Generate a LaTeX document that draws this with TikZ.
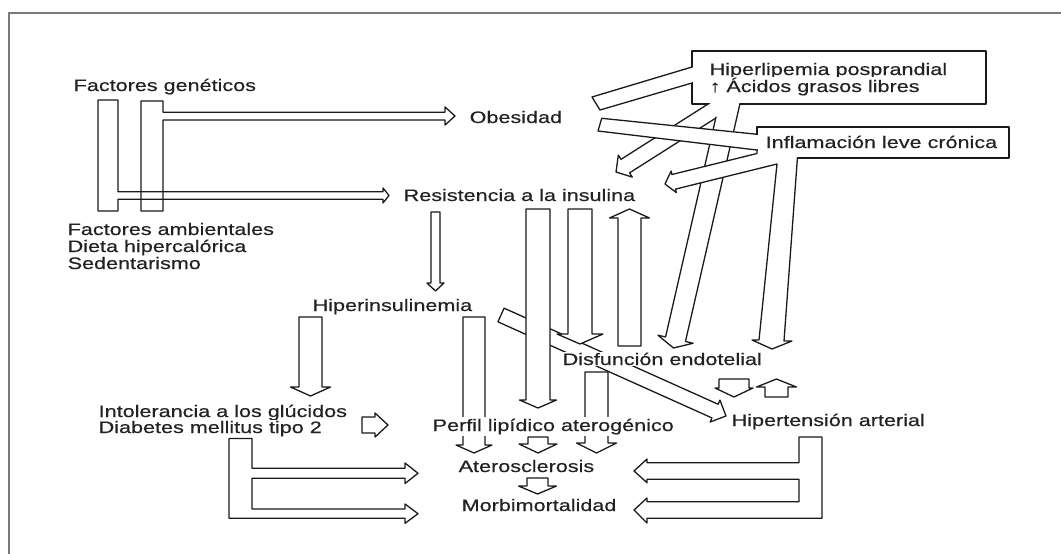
\documentclass[tikz,border=0pt]{standalone}
\usepackage{fontspec}
\setmainfont{Liberation Sans}[FakeStretch=1.3,FakeBold=0.4]
\usetikzlibrary{calc}
\definecolor{linec}{HTML}{1A1A1A}
\definecolor{txtc}{HTML}{222222}
\definecolor{framec}{HTML}{7A7A7A}
% block arrow: [opts]{start}{tip}{half shaft}{half head}{head length}
\newcommand{\blockarr}[6][]{%
  \coordinate (bH) at ($(#3)!#6!(#2)$);
  \draw[blk,#1] ($(#2)!#4!90:(#3)$) -- ($(bH)!#4!90:(#3)$) -- ($(bH)!#5!90:(#3)$) -- (#3)
    -- ($(bH)!#5!-90:(#3)$) -- ($(bH)!#4!-90:(#3)$) -- ($(#2)!#4!-90:(#3)$) -- cycle;}
\begin{document}
\begin{tikzpicture}[x=1pt,y=-1pt,
  blk/.style={draw=linec, fill=white, line width=1.3pt, line join=round},
  openblk/.style={draw=linec, line width=1.3pt, line join=round},
  edge/.style={draw=linec, line width=1.3pt, line join=round},
  lbl/.style={anchor=base west, inner sep=0.5pt, fill=white, text=txtc,
    font=\fontsize{16.6}{17}\selectfont},
]
\useasboundingbox (0,0) rectangle (1061,554);
\fill[white] (0,0) rectangle (1061,554);
% frame
\draw[framec, line width=2pt] (9,554) -- (9,13) -- (1061,13);

% ---- left: genetic / environmental factors
\draw[openblk] (98,100) -- (118,100) -- (118,191.7) -- (383,191.7) -- (383,188) -- (389,195.5)
  -- (383,203) -- (383,199.3) -- (118,199.3) -- (118,211) -- (98,211) -- cycle;
\draw[openblk] (141,101) -- (163,101) -- (163,112.3) -- (445,112.3) -- (445,107) -- (455,116)
  -- (445,125) -- (445,120) -- (163,120) -- (163,211) -- (141,211) -- cycle;

% ---- Resistencia -> Hiperinsulinemia, Hiperinsulinemia -> Intolerancia
\blockarr{435.5,212}{435.5,291}{4.5pt}{8.5pt}{8pt}
\blockarr{310.5,317}{310.5,396}{11.5pt}{20pt}{9pt}
\blockarr{362,425}{388,425}{8pt}{12pt}{13pt}

% ---- E shapes to Aterosclerosis / Morbimortalidad
\draw[blk] (229,438.5) -- (252,438.5) -- (252,468.3) -- (405,468.3) -- (405,463) -- (418,473.3)
  -- (405,483.5) -- (405,478.3) -- (252,478.3) -- (252,509) -- (405,509) -- (405,504)
  -- (418,513.7) -- (405,523.3) -- (405,518.3) -- (229,518.3) -- cycle;
\draw[blk] (822,437) -- (799,437) -- (799,462.7) -- (647,462.7) -- (647,459) -- (634,471)
  -- (647,482.7) -- (647,479.3) -- (799,479.3) -- (799,501.7) -- (647,501.7) -- (647,498)
  -- (634,510) -- (647,523) -- (647,518.3) -- (822,518.3) -- cycle;

% ---- centre
\blockarr{501,315}{726,416}{7.5pt}{12pt}{12pt}      % Hiperinsulinemia -> Hipertension
\blockarr{538,209}{538,408}{12pt}{18.5pt}{8pt}      % Resistencia -> Perfil
\blockarr{580,209}{580,344}{12pt}{23pt}{10pt}       % Resistencia -> Disfuncion
\blockarr{629.5,346}{629.5,209}{11.5pt}{20pt}{9pt}  % Disfuncion -> Resistencia
\blockarr{474,317}{474,453}{11pt}{18pt}{8pt}        % Hiperinsulinemia -> Aterosclerosis
\blockarr{596.5,372}{596.5,453}{11.5pt}{20pt}{10pt} % Disfuncion -> Aterosclerosis
\blockarr{538,437}{538,453}{10pt}{19pt}{9pt}        % Perfil -> Aterosclerosis
\blockarr{537.5,478}{537.5,494}{10.5pt}{19pt}{8pt}  % Aterosclerosis -> Morbimortalidad
\blockarr{734,379}{734,397}{15pt}{19pt}{9pt}        % Disfuncion -> Hipertension
\blockarr{776.5,397}{776.5,379}{11.5pt}{20pt}{8pt}  % Hipertension -> Disfuncion

% ---- Hiperlipemia cluster
\blockarr{735.6,96}{616,172}{8pt}{13pt}{11pt}       % Hiperlipemia -> Resistencia
\blockarr{731.5,95}{673.5,348}{10.2pt}{18pt}{9pt}   % Hiperlipemia -> Disfuncion
\draw[blk] (592,97) -- (700,64.6) -- (700,80.65) -- (600,110) -- cycle; % Obesidad -> Hiperlipemia
\fill[white] (692.6,51.6) rectangle (985.4,103.4);
\fill[white] (716.8,102) -- (721.8,102) -- (718.8,116.5) -- (714.5,116.5) -- cycle;
\draw[edge] (708,104) -- (692,104) -- (692,83);
\draw[edge] (692,67) -- (692,51) -- (986,51) -- (986,104) -- (740,104);

% ---- Inflamacion cluster
\draw[blk] (601.7,118.3) -- (770,135.6) -- (770,151.6) -- (598,131) -- cycle; % Obesidad -> Inflamacion
\draw[blk] (757,153.5) -- (671.9,174.5) -- (671.1,171.1) -- (665,184) -- (676.3,192.5)
  -- (675.5,189.1) -- (777,164) -- (759,340) -- (752,340) -- (772,349) -- (792,341)
  -- (784,341) -- (798,150) -- (757,150) -- cycle;
\fill[white] (757.6,127.6) rectangle (1008.4,157.4);
\draw[edge] (757,134.3) -- (757,127) -- (1009,127) -- (1009,158) -- (798,158);

% ---- labels
\node[lbl] (gen) at (73,91) {Factores genéticos};
\node[lbl] (obes) at (469,123) {Obesidad};
\node[lbl] (resis) at (403,201) {Resistencia a la insulina};
\node[lbl] (amb1) at (67,235) {Factores ambientales};
\node[lbl] (amb2) at (67,252) {Dieta hipercalórica};
\node[lbl] (amb3) at (67,269) {Sedentarismo};
\node[lbl] (hins) at (312,311) {Hiperinsulinemia};
\node[lbl] (into1) at (98,417) {Intolerancia a los glúcidos};
\node[lbl] (into2) at (98,433) {Diabetes mellitus tipo 2};
\node[lbl, inner ysep=2pt] (perf) at (432,431) {Perfil lipídico aterogénico};
\node[lbl] (ater) at (458,472) {Aterosclerosis};
\node[lbl] (morb) at (461,511) {Morbimortalidad};
\node[lbl] (disf) at (562,365) {Disfunción endotelial};
\node[lbl] (hipt) at (731,426) {Hipertensión arterial};
\node[lbl] (hl1) at (709,75) {Hiperlipemia posprandial};
\node[lbl] (hl2) at (709,92) {↑ Ácidos grasos libres};
\node[lbl] (infl) at (765,148) {Inflamación leve crónica};
\end{tikzpicture}
\end{document}
